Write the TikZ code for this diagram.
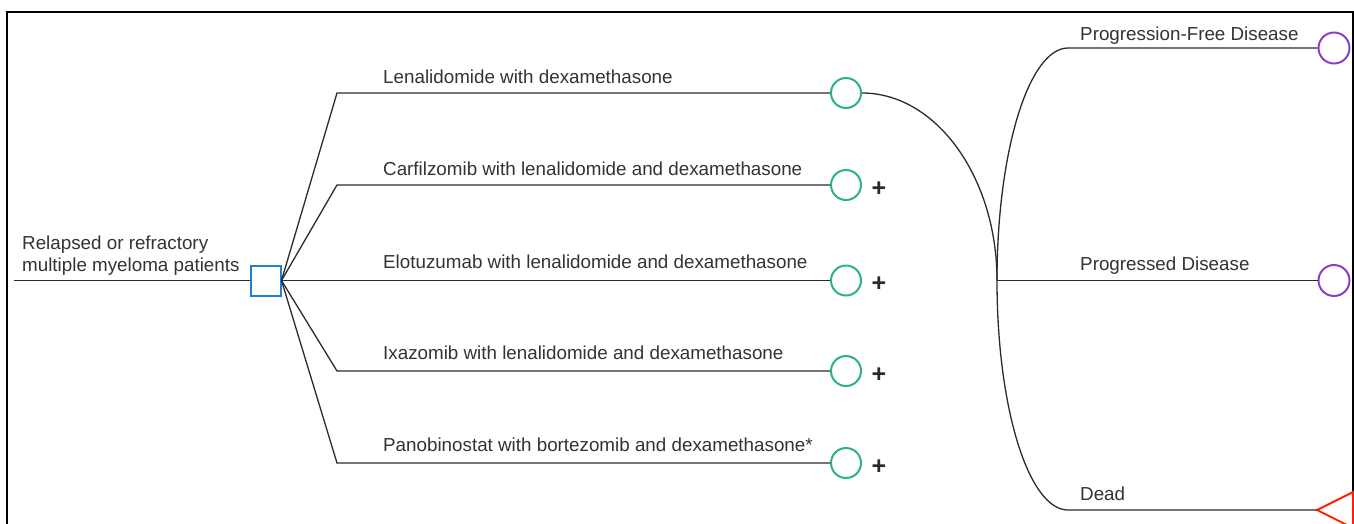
\documentclass[tikz,border=0pt]{standalone}
\usepackage{fontspec}
\setmainfont{Liberation Sans}
\definecolor{txt}{HTML}{333333}
\definecolor{ln}{HTML}{2B2B2B}
\definecolor{grn}{HTML}{2DB37F}
\definecolor{prp}{HTML}{8A3FC4}
\definecolor{blu}{HTML}{1F80D8}
\definecolor{rd}{HTML}{FF2200}
\begin{document}
\begin{tikzpicture}[x=1pt,y=-1pt,
  lbl/.style={anchor=base west, font=\fontsize{18.8}{22.5}\selectfont, text=txt, inner sep=0pt},
  chance/.style={circle, draw=grn, line width=2pt, minimum size=30pt, inner sep=0pt},
  state/.style={circle, draw=prp, line width=2pt, minimum size=31pt, inner sep=0pt},
  decision/.style={rectangle, draw=blu, line width=2pt, minimum size=30pt, inner sep=0pt},
  plussign/.style={font=\fontsize{25}{25}\selectfont\bfseries, text=ln, inner sep=0pt},
  conn/.style={draw=ln, line width=1.3pt}]
\useasboundingbox (0,0) rectangle (1354,523);
\clip (0,0) rectangle (1354,523);
% frame
\draw[line width=1.3pt, black] (7,540) -- (7,12) -- (1353,12) -- (1353,540);

% decision node
\node[decision] (sq) at (265.5,280.5) {};
\coordinate (start) at (14,280.5);
\draw[conn] (start) -- (sq.west);
\node[anchor=south west, align=left, font=\fontsize{18.8}{22.5}\selectfont, text=txt, inner sep=0pt] (root) at (22,276) {Relapsed or refractory\\multiple myeloma patients};

% branches
\foreach \i/\y in {1/93,2/185,3/280.5,4/371,5/463}{
  \coordinate (b\i) at (337,\y);
  \node[chance] (c\i) at (846,\y) {};
  \draw[conn] (sq.east) -- (b\i) -- (c\i.west);
}
\node[lbl] (l1) at (383,83) {Lenalidomide with dexamethasone};
\node[lbl] (l2) at (383,175) {Carfilzomib with lenalidomide and dexamethasone};
\node[lbl] (l3) at (383,268) {Elotuzumab with lenalidomide and dexamethasone};
\node[lbl] (l4) at (383,359) {Ixazomib with lenalidomide and dexamethasone};
\node[lbl] (l5) at (383,451) {Panobinostat with bortezomib and dexamethasone*};

\foreach \i/\y in {2/185,3/280.5,4/371,5/463}{
  \node[plussign] (p\i) at (879,\y+4) {+};
}

% Markov part
\coordinate (j) at (997,280.5);
\coordinate (k1) at (1068,48);
\coordinate (k3) at (1068,510);
\node[state] (pfd) at (1334,48) {};
\node[state] (pd) at (1334,280.5) {};
\coordinate (dead) at (1317,510);
\draw[rd, line width=2pt, line join=miter] (dead) -- ++(36,-18) -- ++(0,36) -- cycle;

\draw[conn] (c1.east) .. controls (936,93) and (997,177) .. (j);
\draw[conn] (j) .. controls (997,151) and (1029,48) .. (k1) -- (pfd.west);
\draw[conn] (j) -- (pd.west);
\draw[conn] (j) .. controls (997,409) and (1029,510) .. (k3) -- (dead);

\node[lbl] (t1) at (1080,40) {Progression-Free Disease};
\node[lbl] (t2) at (1080,270) {Progressed Disease};
\node[lbl] (t3) at (1080,500) {Dead};
\end{tikzpicture}
\end{document}
